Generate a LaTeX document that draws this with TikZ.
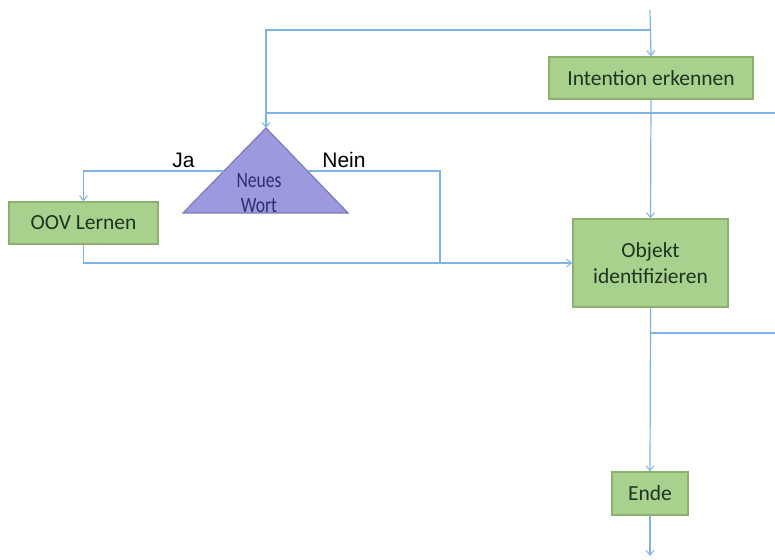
\documentclass[tikz,border=0pt]{standalone}
\usepackage{fontspec}
\setmainfont{Carlito}
\newfontfamily\labelfont{Liberation Sans}
\usetikzlibrary{arrows.meta}
\definecolor{boxfill}{HTML}{A9D18E}
\definecolor{boxdraw}{HTML}{8DB06F}
\definecolor{boxtext}{HTML}{1F3320}
\definecolor{trifill}{HTML}{9C99DE}
\definecolor{tridraw}{HTML}{7C79BC}
\definecolor{tritext}{HTML}{2B2F6E}
\definecolor{flow}{HTML}{7FB3E6}
\tikzset{
  stepbox/.style={draw=boxdraw, fill=boxfill, line width=1.2pt, inner sep=0pt,
    text=boxtext, font=\fontsize{21.5}{26}\selectfont, align=center},
  flowline/.style={draw=flow, line width=1.2pt},
  flowarrow/.style={flowline, -{Straight Barb[length=5pt,width=8pt,line width=1pt]}},
  branchlabel/.style={font=\labelfont\fontsize{21}{24}\selectfont, text=black, inner sep=0pt}
}
\begin{document}
\begin{tikzpicture}[x=1pt,y=-1pt]
  \useasboundingbox (0,0) rectangle (775,559);

  % process steps
  \node[stepbox, minimum width=204pt, minimum height=42pt] (intention) at (651,78) {Intention erkennen};
  \node[stepbox, minimum width=149pt, minimum height=42pt] (oov) at (83.5,223) {OOV Lernen};
  \node[stepbox, minimum width=155pt, minimum height=88pt] (objekt) at (650.5,263) {Objekt\\identifizieren};
  \node[stepbox, minimum width=76pt, minimum height=43pt] (ende) at (650,493.5) {Ende};

  % decision triangle
  \coordinate (apex) at (266,128);
  \coordinate (baseL) at (183,213);
  \coordinate (baseR) at (348,213);
  \fill[trifill] (apex) -- (baseL) -- (baseR) -- cycle;
  \draw[tridraw, line width=1.2pt, line join=miter] (apex) -- (baseL) -- (baseR) -- cycle;
  \node[text=tritext, font=\fontsize{22}{25}\selectfont, align=center, inner sep=0pt,
        transform shape, xscale=0.8] (neues) at (259,193) {Neues\\Wort};
  \coordinate (triL) at (224,171);
  \coordinate (triR) at (307.5,171);

  % branch labels
  \node[branchlabel] (ja) at (183.5,160) {Ja};
  \node[branchlabel] (nein) at (344,160) {Nein};

  % connectors
  \coordinate (start) at (650,10);
  \coordinate (loopTop) at (650,30);
  \coordinate (loopIn) at (775,113);
  \coordinate (loopJoin) at (266,113);
  \coordinate (neinEnd) at (440,262);
  \coordinate (outSplit) at (650,333);
  \coordinate (outRight) at (775,333);
  \coordinate (finish) at (650,556);

  \draw[flowarrow] (start) -- (intention.north);
  \draw[flowarrow] (loopTop) -| (apex);
  \draw[flowline] (loopIn) -- (loopJoin);
  \draw[flowarrow] (intention.south) -- (objekt.north);
  \draw[flowarrow] (triL) -| (oov.north);
  \draw[flowline] (triR) -| (neinEnd);
  \draw[flowarrow] (oov.south) |- (objekt.west);
  \draw[flowarrow] (objekt.south) -- (ende.north);
  \draw[flowline] (outSplit) -- (outRight);
  \draw[flowarrow] (ende.south) -- (finish);
\end{tikzpicture}
\end{document}
